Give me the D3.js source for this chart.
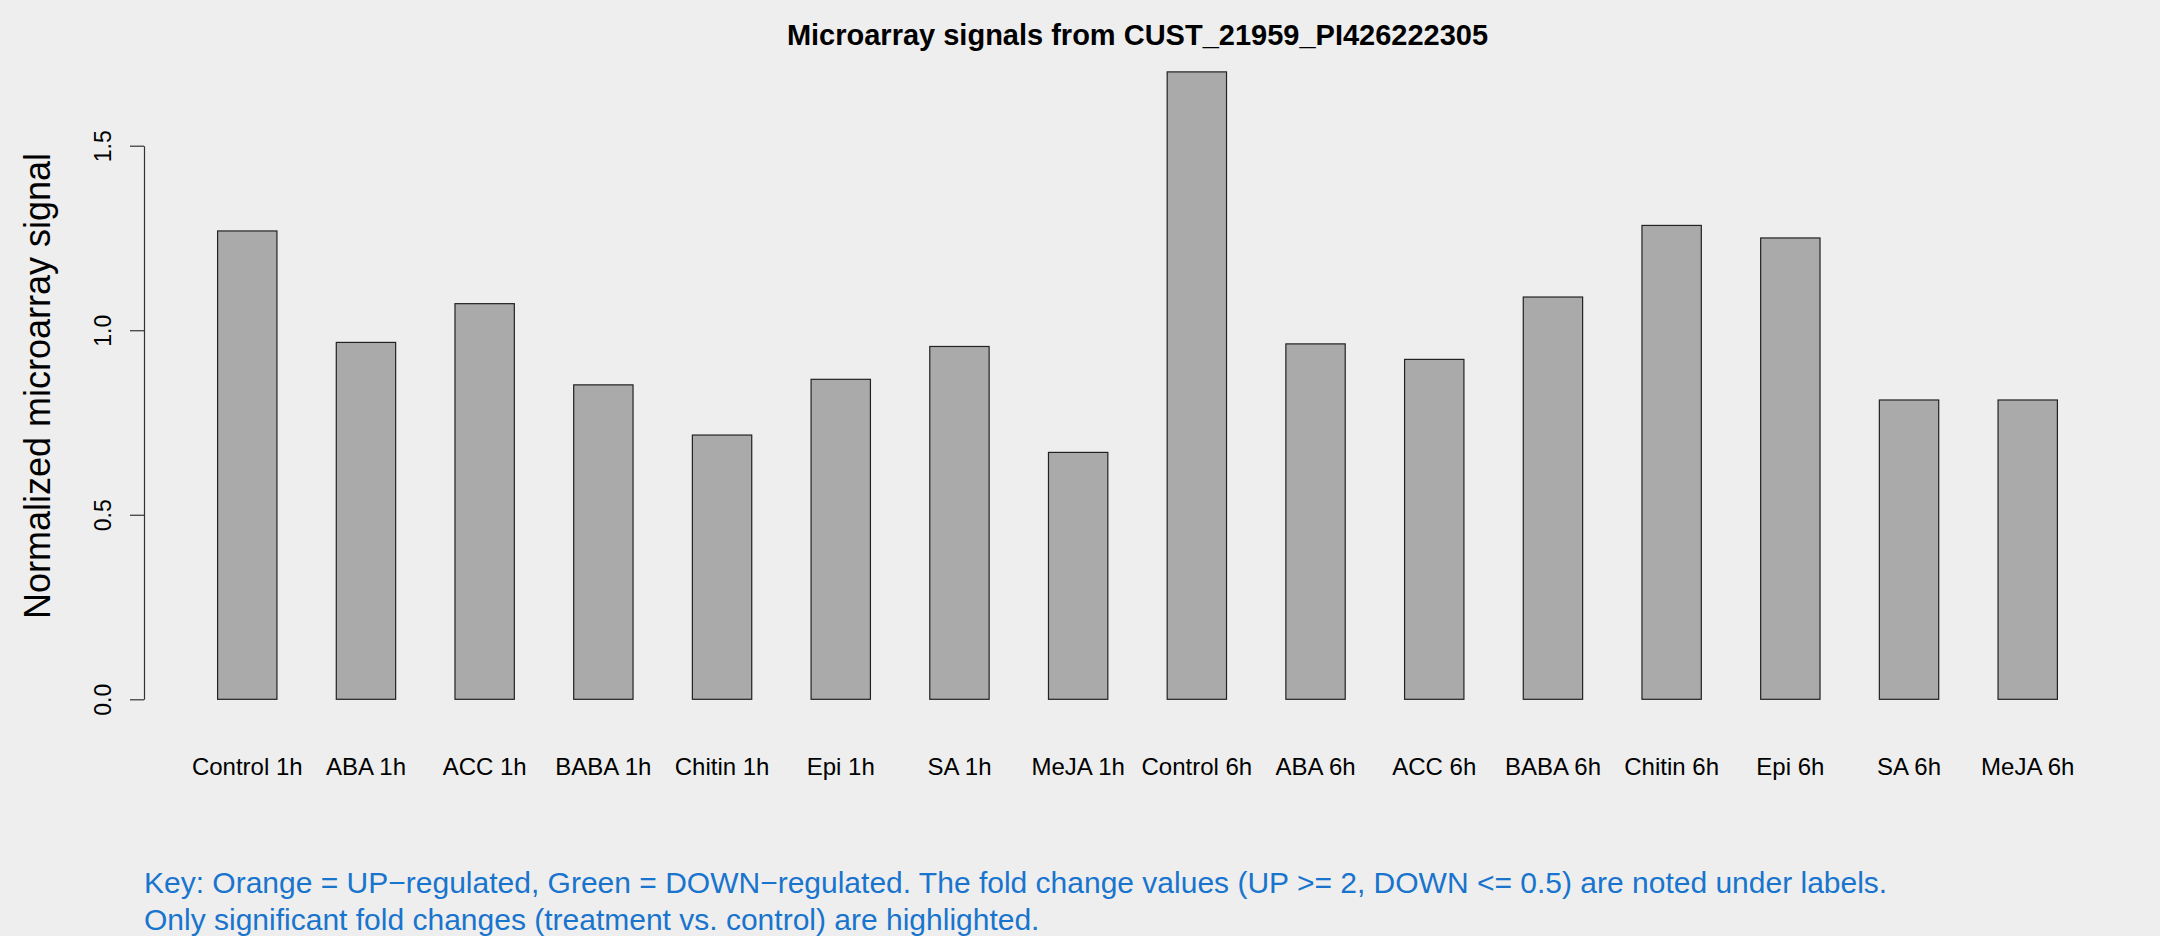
<!DOCTYPE html>
<html>
<head>
<meta charset="utf-8">
<script src="https://cdn.jsdelivr.net/npm/d3@7"></script>
<style>
  html, body { margin: 0; padding: 0; background: #EEEEEE; }
  svg { display: block; }
  text { font-family: "Liberation Sans", Arial, Helvetica, sans-serif; }
</style>
</head>
<body>
<script>
// ---- data ----
const categories = ["Control 1h", "ABA 1h", "ACC 1h", "BABA 1h", "Chitin 1h", "Epi 1h", "SA 1h", "MeJA 1h",
                    "Control 6h", "ABA 6h", "ACC 6h", "BABA 6h", "Chitin 6h", "Epi 6h", "SA 6h", "MeJA 6h"];
const values = [1.269, 0.967, 1.072, 0.852, 0.716, 0.867, 0.956, 0.669,
                1.700, 0.963, 0.921, 1.090, 1.284, 1.250, 0.811, 0.811];
const yTicks = [0, 0.5, 1.0, 1.5];
const titleText = "Microarray signals from CUST_21959_PI426222305";
const yLabel = "Normalized microarray signal";
const keyLines = [
  "Key: Orange = UP\u2212regulated, Green = DOWN\u2212regulated. The fold change values (UP >= 2, DOWN <= 0.5) are noted under labels.",
  "Only significant fold changes (treatment vs. control) are highlighted."
];

// ---- layout ----
const W = 2160, H = 936;
const plotLeft = 144, plotRight = 2131;

const svg = d3.select("body").append("svg").attr("width", W).attr("height", H);
svg.append("rect").attr("width", W).attr("height", H).attr("fill", "#EEEEEE");

const x = d3.scaleBand().domain(categories).range([plotLeft, plotRight])
  .paddingInner(0.5).paddingOuter(0.62);
const y = d3.scaleLinear().domain([0, 1.5]).range([699.3, 145.7]);

// bars
svg.append("g").selectAll("rect").data(values).join("rect")
  .attr("x", (d, i) => x(categories[i]))
  .attr("width", x.bandwidth())
  .attr("y", d => y(d))
  .attr("height", d => y(0) - y(d))
  .attr("fill", "#AAAAAA")
  .attr("stroke", "#222")
  .attr("stroke-width", 1.2);

// y axis
const yAxis = d3.axisLeft(y).tickValues(yTicks).tickFormat(d3.format(".1f"))
  .tickSize(14).tickSizeOuter(0);
const gy = svg.append("g").attr("transform", `translate(${plotLeft},0)`).call(yAxis);
gy.select(".domain").attr("stroke", "#333").attr("stroke-width", 1.2);
gy.selectAll(".tick line").attr("stroke", "#333").attr("stroke-width", 1.2);
gy.selectAll(".tick text")
  .attr("transform", "rotate(-90)")
  .attr("x", 0).attr("y", -33).attr("dy", null)
  .attr("text-anchor", "middle")
  .attr("fill", "#000")
  .style("font-size", "23px")
  .style("font-family", "'Liberation Sans', Arial, sans-serif");

// x labels (no axis line, R barplot names)
const xAxis = d3.axisBottom(x).tickSize(0).tickSizeOuter(0);
const gx = svg.append("g").attr("transform", `translate(0,775)`).call(xAxis);
gx.select(".domain").remove();
gx.selectAll(".tick text")
  .attr("y", 0).attr("dy", null)
  .attr("fill", "#000")
  .style("font-size", "24px")
  .style("font-family", "'Liberation Sans', Arial, sans-serif");

// title
svg.append("text")
  .attr("x", (plotLeft + plotRight) / 2).attr("y", 45)
  .attr("text-anchor", "middle")
  .style("font-size", "29px").style("font-weight", "bold")
  .attr("fill", "#000")
  .text(titleText);

// y label
svg.append("text")
  .attr("transform", `translate(50,386) rotate(-90)`)
  .attr("text-anchor", "middle")
  .style("font-size", "36px")
  .attr("fill", "#000")
  .text(yLabel);

// key text
svg.append("g").selectAll("text").data(keyLines).join("text")
  .attr("x", plotLeft)
  .attr("y", (d, i) => 893 + i * 37)
  .attr("fill", "#1874CD")
  .style("font-size", "30px")
  .text(d => d);
</script>
</body>
</html>
